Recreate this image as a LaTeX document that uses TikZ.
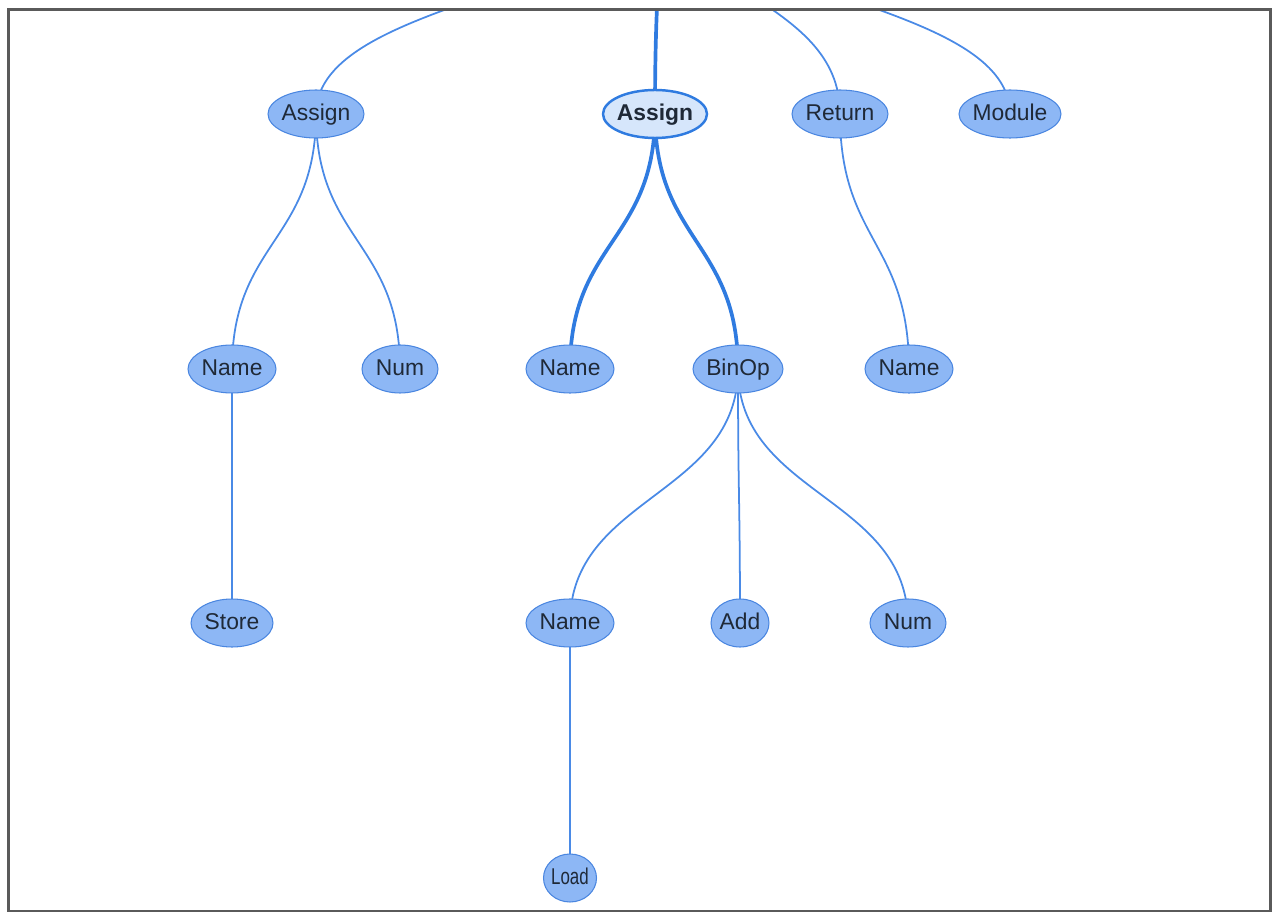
\documentclass[tikz,border=0pt]{standalone}
\usepackage{fontspec}
\setmainfont{Liberation Sans}
\usetikzlibrary{shapes.geometric,backgrounds}
\definecolor{nodefill}{RGB}{141,183,245}
\definecolor{nodeline}{RGB}{74,134,224}
\definecolor{linkblue}{RGB}{74,138,230}
\definecolor{selfill}{RGB}{214,230,251}
\definecolor{selline}{RGB}{47,123,224}
\definecolor{labeltext}{RGB}{31,41,55}
\definecolor{framegray}{RGB}{90,90,90}
\tikzset{
  astnode/.style={draw=nodeline, fill=nodefill, ellipse, inner sep=-1em, minimum height=0.96cm, line width=0.6pt, text=labeltext, text height=0.72em, text depth=0pt, font=\fontsize{13}{15}\selectfont},
  selnode/.style={astnode, fill=selfill, draw=selline, line width=1.4pt, font=\fontsize{13}{15}\selectfont\bfseries},
  link/.style={draw=linkblue, line width=1pt},
  sellink/.style={draw=selline, line width=2.1pt}
}

\begin{document}
\begin{tikzpicture}[x=0.02cm, y=-0.02cm]
        \useasboundingbox (0,0) rectangle (1276,922);
        % parent of the top row sits above the frame
        \coordinate (root) at (660,-125);

        % Top row
        \node[astnode, minimum width=1.92cm] (assign1) at (316,114) {Assign};
        \node[selnode, minimum width=2.08cm] (assign2) at (655,114) {Assign};
        \node[astnode, minimum width=1.92cm] (return) at (840,114) {Return};
        \node[astnode, minimum width=2.04cm] (module) at (1010,114) {Module};

        % Second row
        \node[astnode, minimum width=1.76cm] (name1) at (232,369) {Name};
        \node[astnode, minimum width=1.52cm] (num1) at (400,369) {Num};
        \node[astnode, minimum width=1.76cm] (name2) at (570,369) {Name};
        \node[astnode, minimum width=1.80cm] (binop) at (738,369) {BinOp};
        \node[astnode, minimum width=1.76cm] (name3) at (909,369) {Name};

        % Third row
        \node[astnode, minimum width=1.64cm] (store) at (232,623) {Store};
        \node[astnode, minimum width=1.76cm] (name4) at (570,623) {Name};
        \node[astnode, minimum width=1.16cm] (add) at (740,623) {Add};
        \node[astnode, minimum width=1.52cm] (num2) at (908,623) {Num};

        % Last row
        \node[astnode, minimum width=1.06cm] (load) at (570,878) {\scalebox{0.74}[1]{Load}};

        % Links behind the nodes
        \begin{scope}[on background layer]
            \clip (8.5,9.5) rectangle (1270,911);
            \draw[link] (root) .. controls +(0,119.5) and +(0,-119.5) .. (assign1.center);
            \draw[sellink] (root) .. controls +(0,119.5) and +(0,-119.5) .. (assign2.center);
            \draw[link] (root) .. controls +(0,119.5) and +(0,-119.5) .. (return.center);
            \draw[link] (root) .. controls +(0,119.5) and +(0,-119.5) .. (module.center);

            \draw[link] (assign1.center) .. controls +(0,127.5) and +(0,-127.5) .. (name1.center);
            \draw[link] (assign1.center) .. controls +(0,127.5) and +(0,-127.5) .. (num1.center);
            \draw[sellink] (assign2.center) .. controls +(0,127.5) and +(0,-127.5) .. (name2.center);
            \draw[sellink] (assign2.center) .. controls +(0,127.5) and +(0,-127.5) .. (binop.center);
            \draw[link] (return.center) .. controls +(0,127.5) and +(0,-127.5) .. (name3.center);

            \draw[link] (name1.center) -- (store.center);
            \draw[link] (binop.center) .. controls +(0,127) and +(0,-127) .. (name4.center);
            \draw[link] (binop.center) .. controls +(0,127) and +(0,-127) .. (add.center);
            \draw[link] (binop.center) .. controls +(0,127) and +(0,-127) .. (num2.center);

            \draw[link] (name4.center) -- (load.center);
        \end{scope}

        % Frame
        \draw[framegray, line width=1.7pt] (8.5,9.5) rectangle (1270,911);
    \end{tikzpicture}
\end{document}
